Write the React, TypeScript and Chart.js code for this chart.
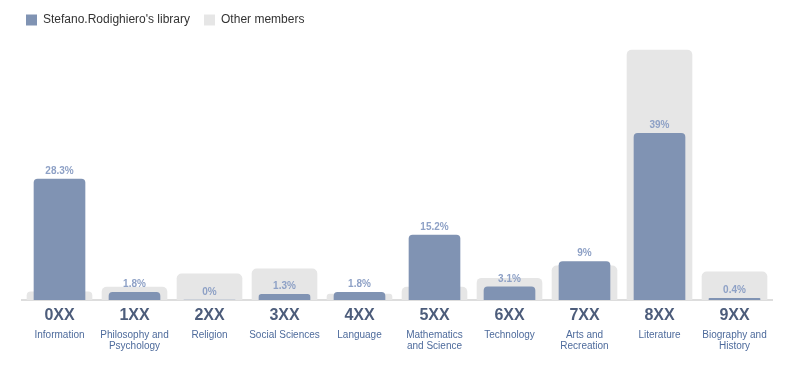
import React, { useEffect, useRef } from "react";
import { Chart, registerables } from "chart.js";

Chart.register(...registerables);

const codes = ["0XX", "1XX", "2XX", "3XX", "4XX", "5XX", "6XX", "7XX", "8XX", "9XX"];
const subtitles = [
  ["Information"],
  ["Philosophy and", "Psychology"],
  ["Religion"],
  ["Social Sciences"],
  ["Language"],
  ["Mathematics", "and Science"],
  ["Technology"],
  ["Arts and", "Recreation"],
  ["Literature"],
  ["Biography and", "History"],
];
const libraryValues = [28.3, 1.8, 0, 1.3, 1.8, 15.2, 3.1, 9, 39, 0.4];
const otherValues = [1.9, 3.0, 6.1, 7.3, 1.4, 3.0, 5.1, 8.0, 58.5, 6.6];
const seriesNames = ["Stefano.Rodighiero's library", "Other members"];
const yMax = 61.8;

const BLUE = "#8093b3";
const GRAY = "#e6e6e6";

const labelsPlugin = {
  id: "customLabels",
  afterDatasetsDraw(chart: any) {
    const ctx = chart.ctx;
    const meta = chart.getDatasetMeta(0);
    ctx.save();
    ctx.font = "bold 10px 'Liberation Sans', Arial, sans-serif";
    ctx.fillStyle = "#8ea1c6";
    ctx.textAlign = "center";
    ctx.textBaseline = "middle";
    meta.data.forEach((el: any, i: number) => {
      ctx.fillText(libraryValues[i] + "%", el.x, el.y - 8);
    });
    ctx.restore();
  },
  afterDraw(chart: any) {
    const ctx = chart.ctx;
    const xs = chart.scales.x;
    const bottom = chart.chartArea.bottom;
    ctx.save();
    ctx.textAlign = "center";
    ctx.textBaseline = "middle";
    codes.forEach((c, i) => {
      const x = xs.getPixelForValue(i);
      ctx.font = "bold 16px 'Liberation Sans', Arial, sans-serif";
      ctx.fillStyle = "#4d5d7b";
      ctx.fillText(c, x, bottom + 16);
      ctx.font = "10px 'Liberation Sans', Arial, sans-serif";
      ctx.fillStyle = "#4e6b9c";
      subtitles[i].forEach((line, j) => {
        ctx.fillText(line, x, bottom + 35 + j * 11);
      });
    });
    ctx.restore();
  },
};

export default function App() {
  const ref = useRef<HTMLCanvasElement | null>(null);
  useEffect(() => {
    if (!ref.current) return;
    const chart = new Chart(ref.current, {
      type: "bar",
      data: {
        labels: codes,
        datasets: [
          {
            label: seriesNames[0],
            data: libraryValues,
            backgroundColor: BLUE,
            barThickness: 51,
            borderRadius: 4,
            grouped: false,
          } as any,
          {
            label: seriesNames[1],
            data: otherValues,
            backgroundColor: GRAY,
            barThickness: 65,
            borderRadius: 5,
            grouped: false,
          } as any,
        ],
      },
      options: {
        animation: false,
        responsive: false,
        maintainAspectRatio: false,
        layout: { padding: { left: 12, right: 19, top: 0, bottom: 0 } },
        plugins: {
          legend: {
            position: "top",
            align: "start",
            labels: {
              boxWidth: 11,
              boxHeight: 11,
              padding: 14,
              color: "#333333",
              font: { size: 12, family: "'Liberation Sans', Arial, sans-serif" },
            },
          },
          tooltip: { enabled: false },
        },
        scales: {
          x: {
            offset: true,
            grid: { display: false },
            border: { display: true, color: "#dddddd", width: 2 },
            ticks: { display: false },
            afterFit: (scale: any) => {
              scale.height = 77;
            },
          },
          y: {
            min: 0,
            max: yMax,
            display: true,
            grid: { display: false },
            border: { display: false },
            ticks: { display: false },
            afterFit: (scale: any) => {
              scale.width = 10;
            },
          },
        },
      },
      plugins: [labelsPlugin],
    });
    return () => chart.destroy();
  }, []);
  return (
    <div style={{ position: "fixed", left: 0, top: 0, width: 791, height: 377, background: "#fff" }}>
      <canvas ref={ref} width={791} height={377} style={{ display: "block" }} />
    </div>
  );
}
